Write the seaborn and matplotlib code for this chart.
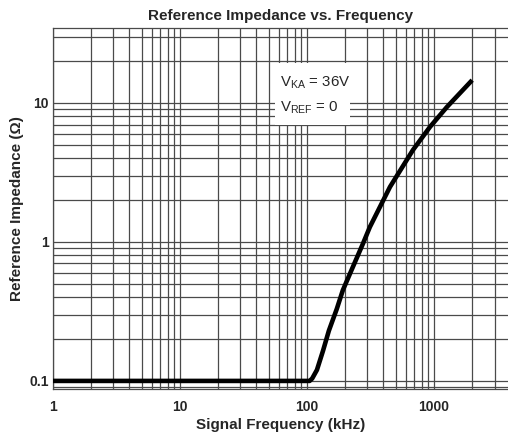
import numpy as np
import pandas as pd
import matplotlib
matplotlib.use('Agg')
import matplotlib.pyplot as plt
import matplotlib.patches as patches
import seaborn as sns

# Values (kHz, ohm)
freq_khz = [1, 10, 100, 105, 110, 120, 134, 149, 172, 192, 230, 276, 313,
            451, 684, 930, 1266, 2000]
impedance = [0.1, 0.1, 0.1, 0.1, 0.104, 0.12, 0.165, 0.23, 0.33, 0.45, 0.66,
             0.97, 1.28, 2.49, 4.59, 6.72, 9.36, 14.6]

x_ticks = [1, 10, 100, 1000]
x_tick_labels = ['1', '10', '100', '1000']
y_ticks = [0.1, 1, 10]
y_tick_labels = ['0.1', '1', '10']

df = pd.DataFrame({'freq': freq_khz, 'z': impedance})

sns.set_theme(style='white')
plt.rcParams['font.family'] = ['Liberation Sans', 'DejaVu Sans']
plt.rcParams['mathtext.fontset'] = 'custom'
plt.rcParams['mathtext.rm'] = 'Liberation Sans'

fig = plt.figure(figsize=(5.08, 4.36), dpi=100, facecolor='white')
ax = fig.add_axes([0.104, 0.108, 0.896, 0.828])
ax.set_facecolor('white')

sns.lineplot(data=df, x='freq', y='z', ax=ax, color='black', linewidth=3.3,
             solid_capstyle='butt', solid_joinstyle='round', zorder=3)

ax.set_xscale('log')
ax.set_yscale('log')
ax.set_xlim(1, 3830)
ax.set_ylim(0.0876, 34.7)

# dense log grid, like the datasheet plot
ax.set_axisbelow(True)
ax.grid(True, which='both', color='#4a4a4a', linewidth=0.9)
ax.tick_params(which='both', length=0, pad=3)
ax.tick_params(axis='x', pad=8)

ax.set_xticks(x_ticks)
ax.set_xticklabels(x_tick_labels, fontsize=10, fontweight='bold')
ax.set_yticks(y_ticks)
ax.set_yticklabels(y_tick_labels, fontsize=10, fontweight='bold')

for side in ['left', 'bottom', 'top']:
    ax.spines[side].set_color('#4a4a4a')
    ax.spines[side].set_linewidth(0.9)
ax.spines['right'].set_visible(False)

ax.set_title('Reference Impedance vs. Frequency', fontsize=11,
             fontweight='bold', pad=6)
ax.set_xlabel('Signal Frequency (kHz)', fontsize=11, fontweight='bold',
              labelpad=3)
ax.set_ylabel('Reference Impedance (\u03a9)', fontsize=11,
              fontweight='bold', labelpad=4)

# white box behind the condition text
box = patches.Rectangle((0.488, 0.731), 0.165, 0.172, transform=ax.transAxes,
                        facecolor='white', edgecolor='none', zorder=1)
ax.add_patch(box)
ax.text(0.499, 0.848, r'V$_{\mathrm{KA}}$ = 36V', transform=ax.transAxes,
        fontsize=10.8, va='center', ha='left', zorder=4)
ax.text(0.499, 0.778, r'V$_{\mathrm{REF}}$ = 0', transform=ax.transAxes,
        fontsize=10.8, va='center', ha='left', zorder=4)

plt.savefig('out.png', dpi=100, facecolor='white')
